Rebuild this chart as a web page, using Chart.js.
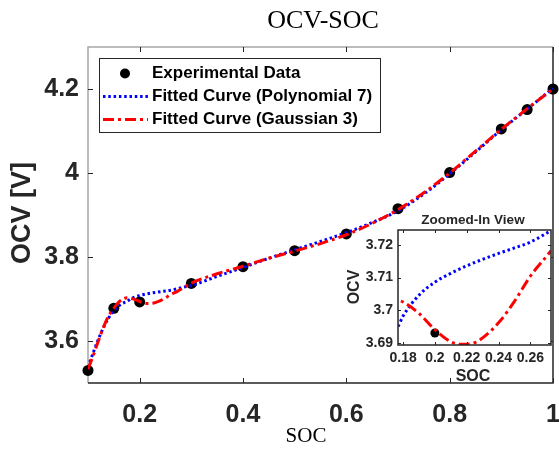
<!DOCTYPE html>
<html>
<head>
<meta charset="utf-8">
<script src="https://cdn.jsdelivr.net/npm/chart.js@4.4.1/dist/chart.umd.min.js"></script>
<style>
  html, body { margin:0; padding:0; background:#fff; }
  #wrap { position:relative; width:559px; height:452px; }
  #main { position:absolute; left:0; top:0; }
  #inset { position:absolute; left:330px; top:205px; }
</style>
</head>
<body>
<div id="wrap">
  <canvas id="main" width="559" height="452"></canvas>
  <canvas id="inset" width="229" height="190"></canvas>
</div>
<script>
// ---------- data ----------
const socData = [0.1, 0.15, 0.2, 0.3, 0.4, 0.5, 0.6, 0.7, 0.8, 0.9, 0.95, 1.0];
const ocvData = [3.530, 3.678, 3.693, 3.737, 3.777, 3.815, 3.855, 3.915, 4.001, 4.105, 4.151, 4.200];

const polySoc = [0.1, 0.11, 0.12, 0.13, 0.14, 0.15, 0.16, 0.17, 0.1768, 0.18, 0.19, 0.2, 0.21, 0.22, 0.23, 0.24, 0.25, 0.26, 0.273, 0.285, 0.3, 0.35, 0.4, 0.45, 0.5, 0.55, 0.6, 0.65, 0.7, 0.75, 0.8, 0.85, 0.9, 0.95, 1.0];
const polyOcv = [3.538, 3.572, 3.604, 3.632, 3.655, 3.672, 3.684, 3.6915, 3.695, 3.6982, 3.7046, 3.7086, 3.7113, 3.7136, 3.7156, 3.7174, 3.7191, 3.7209, 3.7244, 3.728, 3.732, 3.754, 3.775, 3.797, 3.817, 3.837, 3.858, 3.882, 3.910, 3.950, 3.998, 4.050, 4.103, 4.152, 4.202];

const gaussSoc = [0.1, 0.11, 0.12, 0.13, 0.14, 0.15, 0.16, 0.17, 0.1768, 0.18, 0.19, 0.2, 0.21, 0.217, 0.225, 0.23, 0.24, 0.25, 0.26, 0.273, 0.285, 0.3, 0.35, 0.4, 0.45, 0.5, 0.55, 0.6, 0.65, 0.7, 0.75, 0.8, 0.85, 0.9, 0.95, 1.0];
const gaussOcv = [3.533, 3.565, 3.600, 3.633, 3.660, 3.678, 3.693, 3.7015, 3.7029, 3.7025, 3.699, 3.694, 3.6903, 3.6895, 3.6900, 3.6915, 3.6961, 3.7027, 3.7104, 3.7183, 3.727, 3.738, 3.760, 3.778, 3.797, 3.814, 3.832, 3.853, 3.880, 3.913, 3.953, 4.000, 4.052, 4.104, 4.153, 4.200];

const mainXTicks = [0.2, 0.4, 0.6, 0.8, 1.0];
const mainYTicks = [3.6, 3.8, 4.0, 4.2];
const insetXTicks = [0.18, 0.2, 0.22, 0.24, 0.26];
const insetYTicks = [3.69, 3.7, 3.71, 3.72];

const seriesLabels = ['Experimental Data', 'Fitted Curve (Polynomial 7)', 'Fitted Curve (Gaussian 3)'];

const toXY = (xs, ys) => xs.map((x, i) => ({x: x, y: ys[i]}));
const fmt = v => String(parseFloat(v.toFixed(4)));

const AX = '#262626';
const BLUE = '#0000ff';
const RED = '#ff0000';
const BLUE_DASH = [2.5, 2.8];
const RED_DASH = [11, 4, 3, 4];

function makeDatasets(dotR, clipDots) {
  const dots = { label: seriesLabels[0], data: toXY(socData, ocvData), showLine: false, pointRadius: dotR,
      pointBackgroundColor: '#000', pointBorderColor: '#000', pointBorderWidth: 0, order: 2 };
  if (!clipDots) dots.clip = false;
  return [
    { label: seriesLabels[2], data: toXY(gaussSoc, gaussOcv), showLine: true, borderColor: RED, borderWidth: 3,
      borderDash: RED_DASH, pointRadius: 0, cubicInterpolationMode: 'monotone', order: 0, fill: false },
    { label: seriesLabels[1], data: toXY(polySoc, polyOcv), showLine: true, borderColor: BLUE, borderWidth: 3,
      borderDash: BLUE_DASH, pointRadius: 0, cubicInterpolationMode: 'monotone', order: 1, fill: false },
    dots
  ];
}

function inwardTicks(chart, xt, yt, len) {
  const ctx = chart.ctx, a = chart.chartArea, xs = chart.scales.x, ys = chart.scales.y;
  ctx.save();
  ctx.lineWidth = 1;
  ctx.strokeStyle = AX;
  xt.forEach(v => {
    const px = Math.round(xs.getPixelForValue(v)) + 0.5;
    ctx.beginPath(); ctx.moveTo(px, a.bottom); ctx.lineTo(px, a.bottom - len); ctx.stroke();
    ctx.beginPath(); ctx.moveTo(px, a.top); ctx.lineTo(px, a.top + len); ctx.stroke();
  });
  yt.forEach(v => {
    const py = Math.round(ys.getPixelForValue(v)) + 0.5;
    ctx.beginPath(); ctx.moveTo(a.left, py); ctx.lineTo(a.left + len, py); ctx.stroke();
    ctx.beginPath(); ctx.moveTo(a.right, py); ctx.lineTo(a.right - len, py); ctx.stroke();
  });
  ctx.restore();
}

const zeroPad = s => { s.paddingLeft = 0; s.paddingRight = 0; s.paddingTop = 0; s.paddingBottom = 0; };

// ---------- main chart ----------
const mainPlugin = {
  id: 'mainDecor',
  beforeDraw(chart) {
    const ctx = chart.ctx;
    ctx.save(); ctx.fillStyle = '#fff'; ctx.fillRect(0, 0, chart.width, chart.height); ctx.restore();
  },
  beforeDatasetsDraw(chart) {
    const ctx = chart.ctx, a = chart.chartArea;
    ctx.save();
    ctx.lineWidth = 1.5;
    ctx.strokeStyle = '#a6a6a6';
    ctx.beginPath(); ctx.moveTo(a.left, a.bottom); ctx.lineTo(a.left, a.top); ctx.lineTo(a.right, a.top); ctx.stroke();
    ctx.strokeStyle = AX;
    ctx.beginPath(); ctx.moveTo(a.left, a.bottom); ctx.lineTo(a.right, a.bottom); ctx.lineTo(a.right, a.top); ctx.stroke();
    ctx.restore();
    inwardTicks(chart, mainXTicks, mainYTicks, 5);
  },
  afterDraw(chart) {
    const ctx = chart.ctx;
    ctx.save();
    ctx.fillStyle = '#000';
    ctx.textAlign = 'center'; ctx.textBaseline = 'middle';
    ctx.font = '26px "Liberation Serif", "Times New Roman", serif';
    ctx.fillText('OCV-SOC', 323, 21);
    ctx.font = '21px "Liberation Serif", "Times New Roman", serif';
    ctx.fillText('SOC', 306, 436);
    ctx.translate(23, 213);
    ctx.rotate(-Math.PI / 2);
    ctx.fillStyle = AX;
    ctx.font = 'bold 27px "Liberation Sans", Arial, sans-serif';
    ctx.fillText('OCV [V]', 0, 0);
    ctx.restore();

    // legend
    ctx.save();
    const lx = 99, ly = 58, lw = 281, lh = 74;
    ctx.fillStyle = '#fff'; ctx.fillRect(lx, ly, lw, lh);
    ctx.strokeStyle = '#262626'; ctx.lineWidth = 1;
    ctx.strokeRect(lx + 0.5, ly + 0.5, lw, lh);
    const rows = [73.5, 96.5, 119.5];
    const ds = chart.data.datasets;
    ctx.fillStyle = '#000';
    ctx.beginPath(); ctx.arc(125, rows[0], 5, 0, Math.PI * 2); ctx.fill();
    ctx.strokeStyle = BLUE; ctx.lineWidth = 3; ctx.setLineDash(BLUE_DASH);
    ctx.beginPath(); ctx.moveTo(103, rows[1]); ctx.lineTo(148, rows[1]); ctx.stroke();
    ctx.strokeStyle = RED; ctx.setLineDash(RED_DASH);
    ctx.beginPath(); ctx.moveTo(103, rows[2]); ctx.lineTo(148, rows[2]); ctx.stroke();
    ctx.setLineDash([]);
    ctx.fillStyle = '#000';
    ctx.textAlign = 'left'; ctx.textBaseline = 'middle';
    ctx.font = 'bold 17px "Liberation Sans", Arial, sans-serif';
    ctx.fillText(ds[2].label, 152, rows[0]);
    ctx.fillText(ds[1].label, 152, rows[1]);
    ctx.fillText(ds[0].label, 152, rows[2]);
    ctx.restore();
  }
};

new Chart(document.getElementById('main'), {
  type: 'scatter',
  data: { datasets: makeDatasets(5.5, false) },
  options: {
    responsive: false, animation: false,
    layout: { padding: { top: 47, right: 6, left: 0, bottom: 0 } },
    plugins: { legend: { display: false }, tooltip: { enabled: false }, title: { display: false } },
    scales: {
      x: {
        type: 'linear', min: 0.1, max: 1.0,
        afterBuildTicks: s => { s.ticks = mainXTicks.map(v => ({ value: v })); },
        afterFit: s => { s.height = 69; zeroPad(s); },
        grid: { display: false, drawTicks: false }, border: { display: false },
        ticks: { color: AX, padding: 17, font: { family: '"Liberation Sans", Arial, sans-serif', size: 25, weight: 'bold' },
                 callback: v => fmt(v), maxRotation: 0, autoSkip: false }
      },
      y: {
        type: 'linear', min: 3.5, max: 4.3,
        afterBuildTicks: s => { s.ticks = mainYTicks.map(v => ({ value: v })); },
        afterFit: s => { s.width = 88; zeroPad(s); },
        grid: { display: false, drawTicks: false }, border: { display: false },
        ticks: { color: AX, padding: 9, font: { family: '"Liberation Sans", Arial, sans-serif', size: 25, weight: 'bold' },
                 callback: v => fmt(v), autoSkip: false }
      }
    }
  },
  plugins: [mainPlugin]
});

// ---------- inset chart ----------
const insetPlugin = {
  id: 'insetDecor',
  beforeDatasetsDraw(chart) {
    const ctx = chart.ctx, a = chart.chartArea;
    ctx.save(); ctx.fillStyle = '#fff'; ctx.fillRect(a.left, a.top, a.right - a.left, a.bottom - a.top); ctx.restore();
  },
  afterDraw(chart) {
    const ctx = chart.ctx, a = chart.chartArea;
    ctx.save();
    ctx.strokeStyle = AX; ctx.lineWidth = 1.5;
    ctx.strokeRect(a.left, a.top, a.right - a.left, a.bottom - a.top);
    ctx.restore();
    inwardTicks(chart, insetXTicks, insetYTicks, 3);
    ctx.save();
    ctx.fillStyle = AX;
    ctx.textAlign = 'center'; ctx.textBaseline = 'middle';
    ctx.font = 'bold 13.5px "Liberation Sans", Arial, sans-serif';
    ctx.fillText('Zoomed-In View', 143, 15);
    ctx.font = 'bold 16px "Liberation Sans", Arial, sans-serif';
    ctx.fillText('SOC', 143, 172);
    ctx.translate(25, 82);
    ctx.rotate(-Math.PI / 2);
    ctx.fillText('OCV', 0, 0);
    ctx.restore();
  }
};

new Chart(document.getElementById('inset'), {
  type: 'scatter',
  data: { datasets: makeDatasets(4.5, true) },
  options: {
    responsive: false, animation: false,
    layout: { padding: { top: 25, right: 8, left: 0, bottom: 0 } },
    plugins: { legend: { display: false }, tooltip: { enabled: false } },
    scales: {
      x: {
        type: 'linear', min: 0.1768, max: 0.273,
        afterBuildTicks: s => { s.ticks = insetXTicks.map(v => ({ value: v })); },
        afterFit: s => { s.height = 50; zeroPad(s); },
        grid: { display: false, drawTicks: false }, border: { display: false },
        ticks: { color: AX, padding: 5, font: { family: '"Liberation Sans", Arial, sans-serif', size: 14, weight: 'bold' },
                 callback: v => fmt(v), maxRotation: 0, autoSkip: false }
      },
      y: {
        type: 'linear', min: 3.6893, max: 3.7246,
        afterBuildTicks: s => { s.ticks = insetYTicks.map(v => ({ value: v })); },
        afterFit: s => { s.width = 68; zeroPad(s); },
        grid: { display: false, drawTicks: false }, border: { display: false },
        ticks: { color: AX, padding: 5, font: { family: '"Liberation Sans", Arial, sans-serif', size: 14, weight: 'bold' },
                 callback: v => fmt(v), autoSkip: false }
      }
    }
  },
  plugins: [insetPlugin]
});
</script>
</body>
</html>
